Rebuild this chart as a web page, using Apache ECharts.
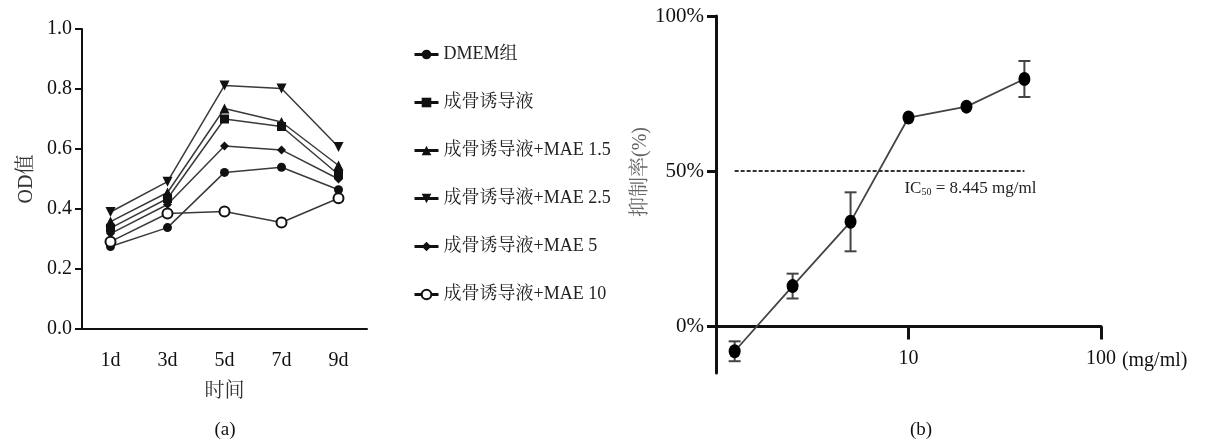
<!DOCTYPE html>
<html><head><meta charset="utf-8">
<script src="https://cdn.jsdelivr.net/npm/echarts@6/dist/echarts.min.js"></script>
<style>html,body{margin:0;padding:0;background:#fff;}#c{width:1207px;height:443px;}</style>
</head><body><div id="c"></div>
<script>
// ---- Panel (a) data ----
const days = ['1d', '3d', '5d', '7d', '9d'];
const dmem = [0.275, 0.338, 0.522, 0.539, 0.464];
const induce = [0.336, 0.435, 0.700, 0.675, 0.515];
const mae15 = [0.358, 0.455, 0.735, 0.690, 0.545];
const mae25 = [0.390, 0.491, 0.812, 0.802, 0.607];
const mae5 = [0.318, 0.415, 0.610, 0.597, 0.500];
const mae10 = [0.291, 0.385, 0.392, 0.355, 0.436];
const seriesNames = ['DMEM组', '成骨诱导液', '成骨诱导液+MAE 1.5', '成骨诱导液+MAE 2.5', '成骨诱导液+MAE 5', '成骨诱导液+MAE 10'];
const yTicksA = [0, 0.2, 0.4, 0.6, 0.8, 1.0];

// ---- Panel (b) data ----
const conc = [1.25, 2.5, 5, 10, 20, 40];
const inhibition = [-8.0, 13.0, 33.7, 67.3, 70.8, 79.7];
const inhibErr = [3.2, 4.0, 9.5, 0, 0, 5.8];
const yTicksB = [0, 50, 100];
const ic50Text = '8.445 mg/ml';

const serif = '"Liberation Serif", "Times New Roman", "Noto Serif CJK SC", "Noto Sans CJK SC", serif';
const invTri = 'path://M0,0 L10,0 L5,10 Z';
const symbols = ['circle', 'rect', 'triangle', invTri, 'diamond', 'emptyCircle'];
const sizes = [9, 9, 10, 10, 9, 10];
const dataA = [dmem, induce, mae15, mae25, mae5, mae10];

const chart = echarts.init(document.getElementById('c'), null, {renderer: 'canvas'});

const seriesA = dataA.map((d, i) => ({
  name: seriesNames[i], type: 'line', xAxisIndex: 0, yAxisIndex: 0,
  data: d, symbol: symbols[i], symbolSize: sizes[i], showAllSymbol: true,
  lineStyle: {color: '#3a3a3a', width: 1.5},
  itemStyle: {color: '#111', borderColor: '#111', borderWidth: i === 5 ? 2 : 0},
  emphasis: {disabled: true}, animation: false
}));

const errData = conc.map((c, i) => [c, inhibition[i] - inhibErr[i], inhibition[i] + inhibErr[i]]).filter((d, i) => inhibErr[i] > 0);

const option = {
  animation: false,
  backgroundColor: '#fff',
  textStyle: {fontFamily: serif},
  legend: {
    orient: 'vertical', left: 408, top: 39, itemWidth: 24, itemHeight: 12, itemGap: 27,
    lineStyle: {width: 3, color: '#111'},
    textStyle: {fontFamily: serif, fontSize: 18, color: '#222', lineHeight: 21},
    data: seriesNames, selectedMode: false
  },
  grid: [
    {left: 82, top: 29, width: 285, height: 300, containLabel: false},
    {left: 716, top: 16, width: 385, height: 357, containLabel: false}
  ],
  xAxis: [
    {gridIndex: 0, type: 'category', data: days, boundaryGap: true,
     axisLine: {lineStyle: {color: '#111', width: 2}},
     axisTick: {alignWithLabel: true, length: 12, lineStyle: {color: '#111', width: 2}},
     axisLabel: {fontFamily: serif, fontSize: 20, color: '#111', margin: 22},
     name: '时间', nameLocation: 'middle', nameGap: 53,
     nameTextStyle: {fontFamily: serif, fontSize: 20, color: '#333'}},
    {gridIndex: 1, type: 'log', logBase: 10, min: 1, max: 100, position: 'bottom', offset: -46.5,
     axisLine: {onZero: false, lineStyle: {color: '#111', width: 3}},
     axisTick: {length: 13, lineStyle: {color: '#111', width: 3}},
     minorTick: {show: false}, splitLine: {show: false},
     axisLabel: {fontFamily: serif, fontSize: 20, color: '#111', margin: 22,
       formatter: v => (v <= 1 ? '' : String(v))},
     name: '(mg/ml)', nameLocation: 'end', nameGap: 19,
     nameTextStyle: {fontFamily: serif, fontSize: 20, color: '#111', align: 'left', verticalAlign: 'top', padding: [24, 0, 0, 0]}}
  ],
  yAxis: [
    {gridIndex: 0, type: 'value', min: 0, max: 1.0, interval: 0.2,
     axisLine: {show: true, lineStyle: {color: '#111', width: 2}},
     axisTick: {show: true, length: 7, lineStyle: {color: '#111', width: 2}},
     splitLine: {show: false},
     axisLabel: {fontFamily: serif, fontSize: 20, color: '#111', margin: 10, formatter: v => v.toFixed(1)},
     name: 'OD值', nameLocation: 'middle', nameGap: 45,
     nameTextStyle: {fontFamily: serif, fontSize: 20, color: '#333'}},
    {gridIndex: 1, type: 'value', min: -15, max: 100,
     axisLine: {show: true, onZero: false, lineStyle: {color: '#111', width: 3}},
     axisTick: {show: true, length: 9, customValues: yTicksB, lineStyle: {color: '#111', width: 3}},
     splitLine: {show: false},
     axisLabel: {fontFamily: serif, fontSize: 21, color: '#111', margin: 12, customValues: yTicksB, formatter: v => v + '%'},
     name: '抑制率(%)', nameLocation: 'middle', nameGap: 65,
     nameTextStyle: {fontFamily: serif, fontSize: 20, color: '#666', padding: [0, 0, 0, 45]}}
  ],
  series: seriesA.concat([
    {type: 'custom', xAxisIndex: 1, yAxisIndex: 1, data: errData, z: 3,
     renderItem: (params, api) => {
       const x = api.value(0);
       const lo = api.coord([x, api.value(1)]);
       const hi = api.coord([x, api.value(2)]);
       const w = 6;
       const st = {stroke: '#444', lineWidth: 2};
       return {type: 'group', children: [
         {type: 'line', shape: {x1: lo[0], y1: lo[1], x2: hi[0], y2: hi[1]}, style: st},
         {type: 'line', shape: {x1: lo[0] - w, y1: lo[1], x2: lo[0] + w, y2: lo[1]}, style: st},
         {type: 'line', shape: {x1: hi[0] - w, y1: hi[1], x2: hi[0] + w, y2: hi[1]}, style: st}
       ]};
     }},
    {type: 'line', xAxisIndex: 1, yAxisIndex: 1, name: 'inhib',
     data: conc.map((c, i) => [c, inhibition[i]]),
     symbol: 'circle', symbolSize: [12, 14], z: 4,
     lineStyle: {color: '#444', width: 1.8},
     itemStyle: {color: '#000'},
     emphasis: {disabled: true},
     markLine: {
       silent: true, symbol: 'none',
       lineStyle: {color: '#333', width: 2, type: [4, 2]},
       label: {show: true, position: 'insideEndBottom', distance: [-12, 8],
         formatter: '{a|IC}{s|50}{a| = ' + ic50Text + '}',
         rich: {a: {fontFamily: serif, fontSize: 17, color: '#222'},
                s: {fontFamily: serif, fontSize: 10, color: '#222', verticalAlign: 'bottom', padding: [8, 0, 0, 0]}}},
       data: [[{coord: [conc[0], 50]}, {coord: [conc[conc.length - 1], 50]}]]
     }}
  ]),
  graphic: [
    {type: 'text', x: 225, y: 430, style: {text: '(a)', fontFamily: serif, fontSize: 19, fill: '#111', align: 'center', verticalAlign: 'middle'}},
    {type: 'text', x: 921, y: 430, style: {text: '(b)', fontFamily: serif, fontSize: 19, fill: '#111', align: 'center', verticalAlign: 'middle'}}
  ]
};
chart.setOption(option);
</script></body></html>
